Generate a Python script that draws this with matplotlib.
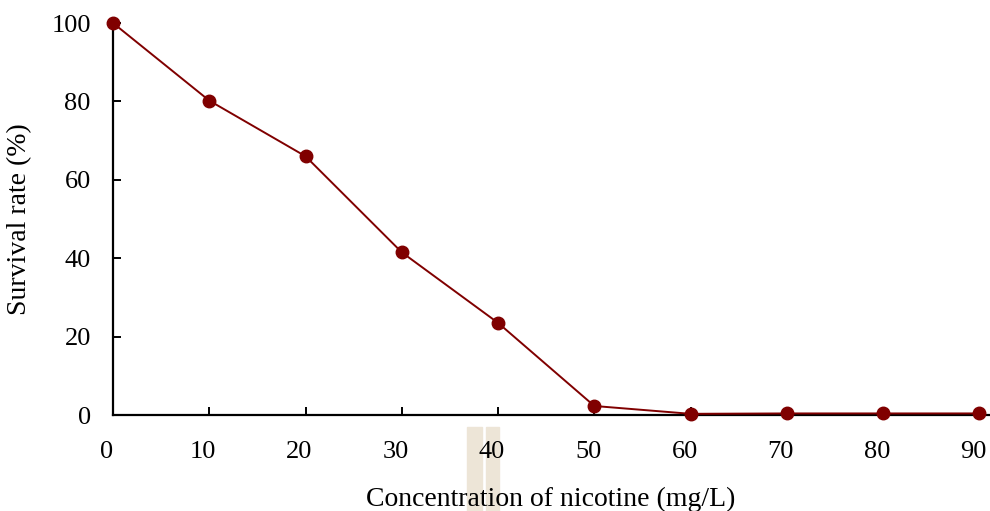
import matplotlib
matplotlib.use("Agg")
import matplotlib.pyplot as plt
from matplotlib.patches import Rectangle
from matplotlib.transforms import ScaledTranslation

concentration = [0, 10, 20, 30, 40, 50, 60, 70, 80, 90]
survival = [100, 80.2, 66, 41.5, 23.5, 2.3, 0.3, 0.4, 0.4, 0.4]
x_ticks = [0, 10, 20, 30, 40, 50, 60, 70, 80, 90]
y_ticks = [0, 20, 40, 60, 80, 100]

plt.rcParams['font.family'] = ['Liberation Serif', 'DejaVu Serif']

W, H = 990, 511
fig = plt.figure(figsize=(W / 100, H / 100), dpi=100)

# beige decoration behind the "40" label
for x0, x1 in [(467, 482), (486, 499)]:
    fig.patches.append(Rectangle((x0 / W, 0), (x1 - x0) / W, (511 - 427) / H,
                                 transform=fig.transFigure, color='#ede5d7', zorder=-5))

ax = fig.add_axes([113 / W, (H - 415) / H, (989 - 113) / W, (415 - 23) / H])
ax.patch.set_alpha(0)
ax.plot(concentration, survival, color='#800000', lw=1.4, marker='o',
        markersize=9, clip_on=False, zorder=3)

ax.set_xlim(0, 91)
ax.set_ylim(0, 100)
ax.set_xticks(x_ticks)
ax.set_yticks(y_ticks)
for s in ['top', 'right']:
    ax.spines[s].set_visible(False)
for s in ['left', 'bottom']:
    ax.spines[s].set_linewidth(1.6)
    ax.spines[s].set_color('black')
ax.tick_params(direction='in', length=6, width=1.4, labelsize=19, colors='black')
ax.tick_params(axis='x', pad=19)
ax.tick_params(axis='y', pad=16)
shift = ScaledTranslation(-6 / 100, 0, fig.dpi_scale_trans)
for lab in ax.get_xticklabels():
    lab.set_transform(lab.get_transform() + shift)
ax.set_xlabel('Concentration of nicotine (mg/L)', fontsize=20, labelpad=17)
ax.set_ylabel('Survival rate (%)', fontsize=20, labelpad=14)

fig.savefig('out.png', dpi=100)
